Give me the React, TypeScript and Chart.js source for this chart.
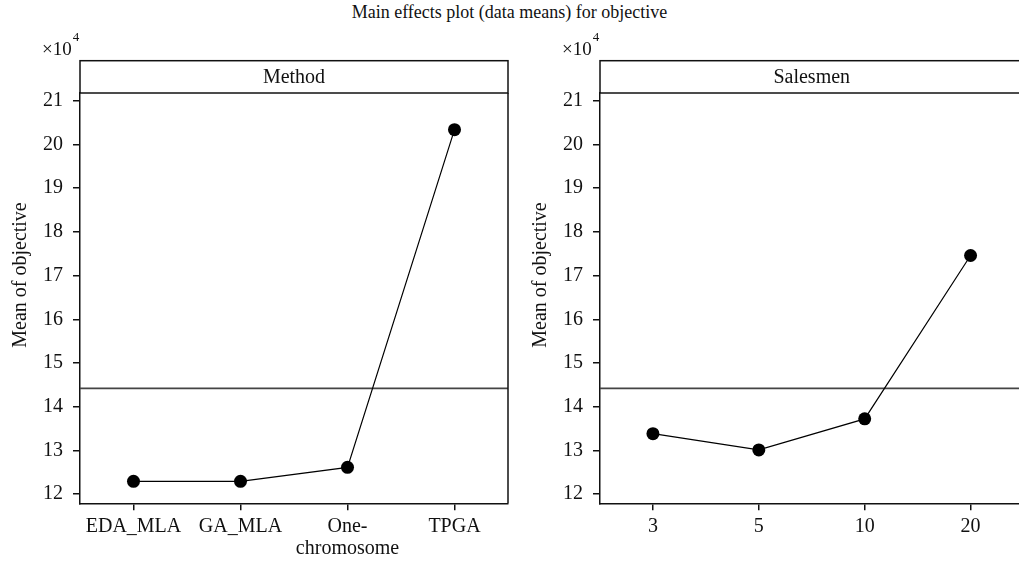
import React, { useEffect, useRef } from "react";
import { Chart, registerables } from "chart.js";

Chart.register(...registerables);

const chartTitle = "Main effects plot (data means) for objective";
const yAxisTitle = "Mean of objective";
const methodHeader = "Method";
const salesmenHeader = "Salesmen";
const methodCategories: (string | string[])[] = ["EDA_MLA", "GA_MLA", ["One-", "chromosome"], "TPGA"];
const methodMeans = [122900, 122900, 126100, 203400];
const salesmenCategories = ["3", "5", "10", "20"];
const salesmenMeans = [133800, 130100, 137200, 174600];
const grandMean = 144200;
const yTickValues = [120000, 130000, 140000, 150000, 160000, 170000, 180000, 190000, 200000, 210000];
const yMin = 117870;
const yMax = 211800;
const scaleDivisor = 10000;
const scaleLabel = "×10";
const scaleExponent = "4";

const FONT = "'Liberation Serif', 'Times New Roman', serif";
const H = 562;
const HEADER_TOP = 60.7;
const PLOT_TOP = 93;
const PLOT_BOTTOM = 503.3;

function makeDecor(header: string) {
  return {
    id: "panelDecor",
    beforeDatasetsDraw(chart: any) {
      const { ctx, chartArea } = chart;
      const y = chart.scales.y.getPixelForValue(grandMean);
      ctx.save();
      ctx.strokeStyle = "#444";
      ctx.lineWidth = 1.8;
      ctx.beginPath();
      ctx.moveTo(chartArea.left, y);
      ctx.lineTo(chartArea.right, y);
      ctx.stroke();
      ctx.restore();
    },
    afterDraw(chart: any) {
      const { ctx, chartArea } = chart;
      const { left, right, top, bottom } = chartArea;
      ctx.save();
      ctx.strokeStyle = "#111";
      ctx.lineWidth = 1.5;
      ctx.strokeRect(left, HEADER_TOP, right - left, top - HEADER_TOP);
      ctx.beginPath();
      ctx.moveTo(right, top);
      ctx.lineTo(right, bottom);
      ctx.stroke();
      ctx.fillStyle = "#111";
      ctx.font = `20px ${FONT}`;
      ctx.textAlign = "center";
      ctx.textBaseline = "middle";
      ctx.fillText(header, (left + right) / 2, (HEADER_TOP + top) / 2 + 1);
      // scale factor
      ctx.textAlign = "left";
      ctx.font = `19px ${FONT}`;
      const sx = left - 38;
      ctx.fillText(scaleLabel, sx, 50);
      const w = ctx.measureText(scaleLabel).width;
      ctx.font = `13px ${FONT}`;
      ctx.fillText(scaleExponent, sx + w + 1, 38);
      // axis title
      ctx.font = `20px ${FONT}`;
      ctx.translate(21, 275);
      ctx.rotate(-Math.PI / 2);
      ctx.textAlign = "center";
      ctx.fillText(yAxisTitle, 0, 0);
      ctx.restore();
    },
  };
}

function Panel(props: {
  left: number;
  width: number;
  padRight: number;
  categories: (string | string[])[];
  values: number[];
  header: string;
}) {
  const ref = useRef<HTMLCanvasElement>(null);
  useEffect(() => {
    const chart = new Chart(ref.current as HTMLCanvasElement, {
      type: "line",
      data: {
        labels: props.categories as any,
        datasets: [
          {
            data: props.values,
            borderColor: "#000",
            borderWidth: 1.2,
            backgroundColor: "#000",
            pointBackgroundColor: "#000",
            pointBorderColor: "#000",
            pointBorderWidth: 0,
            pointRadius: 6.5,
            tension: 0,
            fill: false,
          },
        ],
      },
      options: {
        responsive: false,
        animation: false,
        devicePixelRatio: 1,
        layout: { padding: { top: PLOT_TOP, left: 0, right: props.padRight, bottom: 0 } },
        plugins: {
          legend: { display: false },
          tooltip: { enabled: false },
          title: { display: false },
        },
        scales: {
          x: {
            type: "category",
            offset: true,
            grid: { display: true, drawOnChartArea: false, tickLength: 7, color: "#111", lineWidth: 1.5 },
            border: { display: true, color: "#111", width: 1.5 },
            ticks: {
              autoSkip: false,
              maxRotation: 0,
              minRotation: 0,
              padding: 5,
              color: "#111",
              font: { family: FONT, size: 20, lineHeight: 1.1 },
            },
            afterFit: (scale: any) => {
              scale.height = H - PLOT_BOTTOM;
            },
          },
          y: {
            type: "linear",
            min: yMin,
            max: yMax,
            grid: { display: true, drawOnChartArea: false, tickLength: 7, color: "#111", lineWidth: 1.5 },
            border: { display: true, color: "#111", width: 1.5 },
            ticks: {
              padding: 10,
              color: "#111",
              font: { family: FONT, size: 20 },
              callback: (v: any) => String(Number(v) / scaleDivisor),
            },
            afterBuildTicks: (scale: any) => {
              scale.ticks = yTickValues.map((v) => ({ value: v }));
            },
            afterFit: (scale: any) => {
              scale.width = 80;
            },
          },
        },
      },
      plugins: [makeDecor(props.header)],
    } as any);
    return () => chart.destroy();
  }, []);
  return (
    <canvas
      ref={ref}
      width={props.width}
      height={H}
      style={{ position: "absolute", left: props.left, top: 0, width: props.width, height: H }}
    />
  );
}

export default function App() {
  return (
    <div
      style={{
        position: "fixed",
        left: 0,
        top: 0,
        width: 1019,
        height: H,
        overflow: "hidden",
        background: "#fff",
      }}
    >
      <div
        style={{
          position: "absolute",
          left: 0,
          top: 0,
          width: 1019,
          textAlign: "center",
          font: `18px ${FONT}`,
          lineHeight: "24px",
          color: "#111",
        }}
      >
        {chartTitle}
      </div>
      <Panel left={0} width={515} padRight={7} categories={methodCategories} values={methodMeans} header={methodHeader} />
      <Panel left={520} width={510} padRight={3} categories={salesmenCategories} values={salesmenMeans} header={salesmenHeader} />
    </div>
  );
}
